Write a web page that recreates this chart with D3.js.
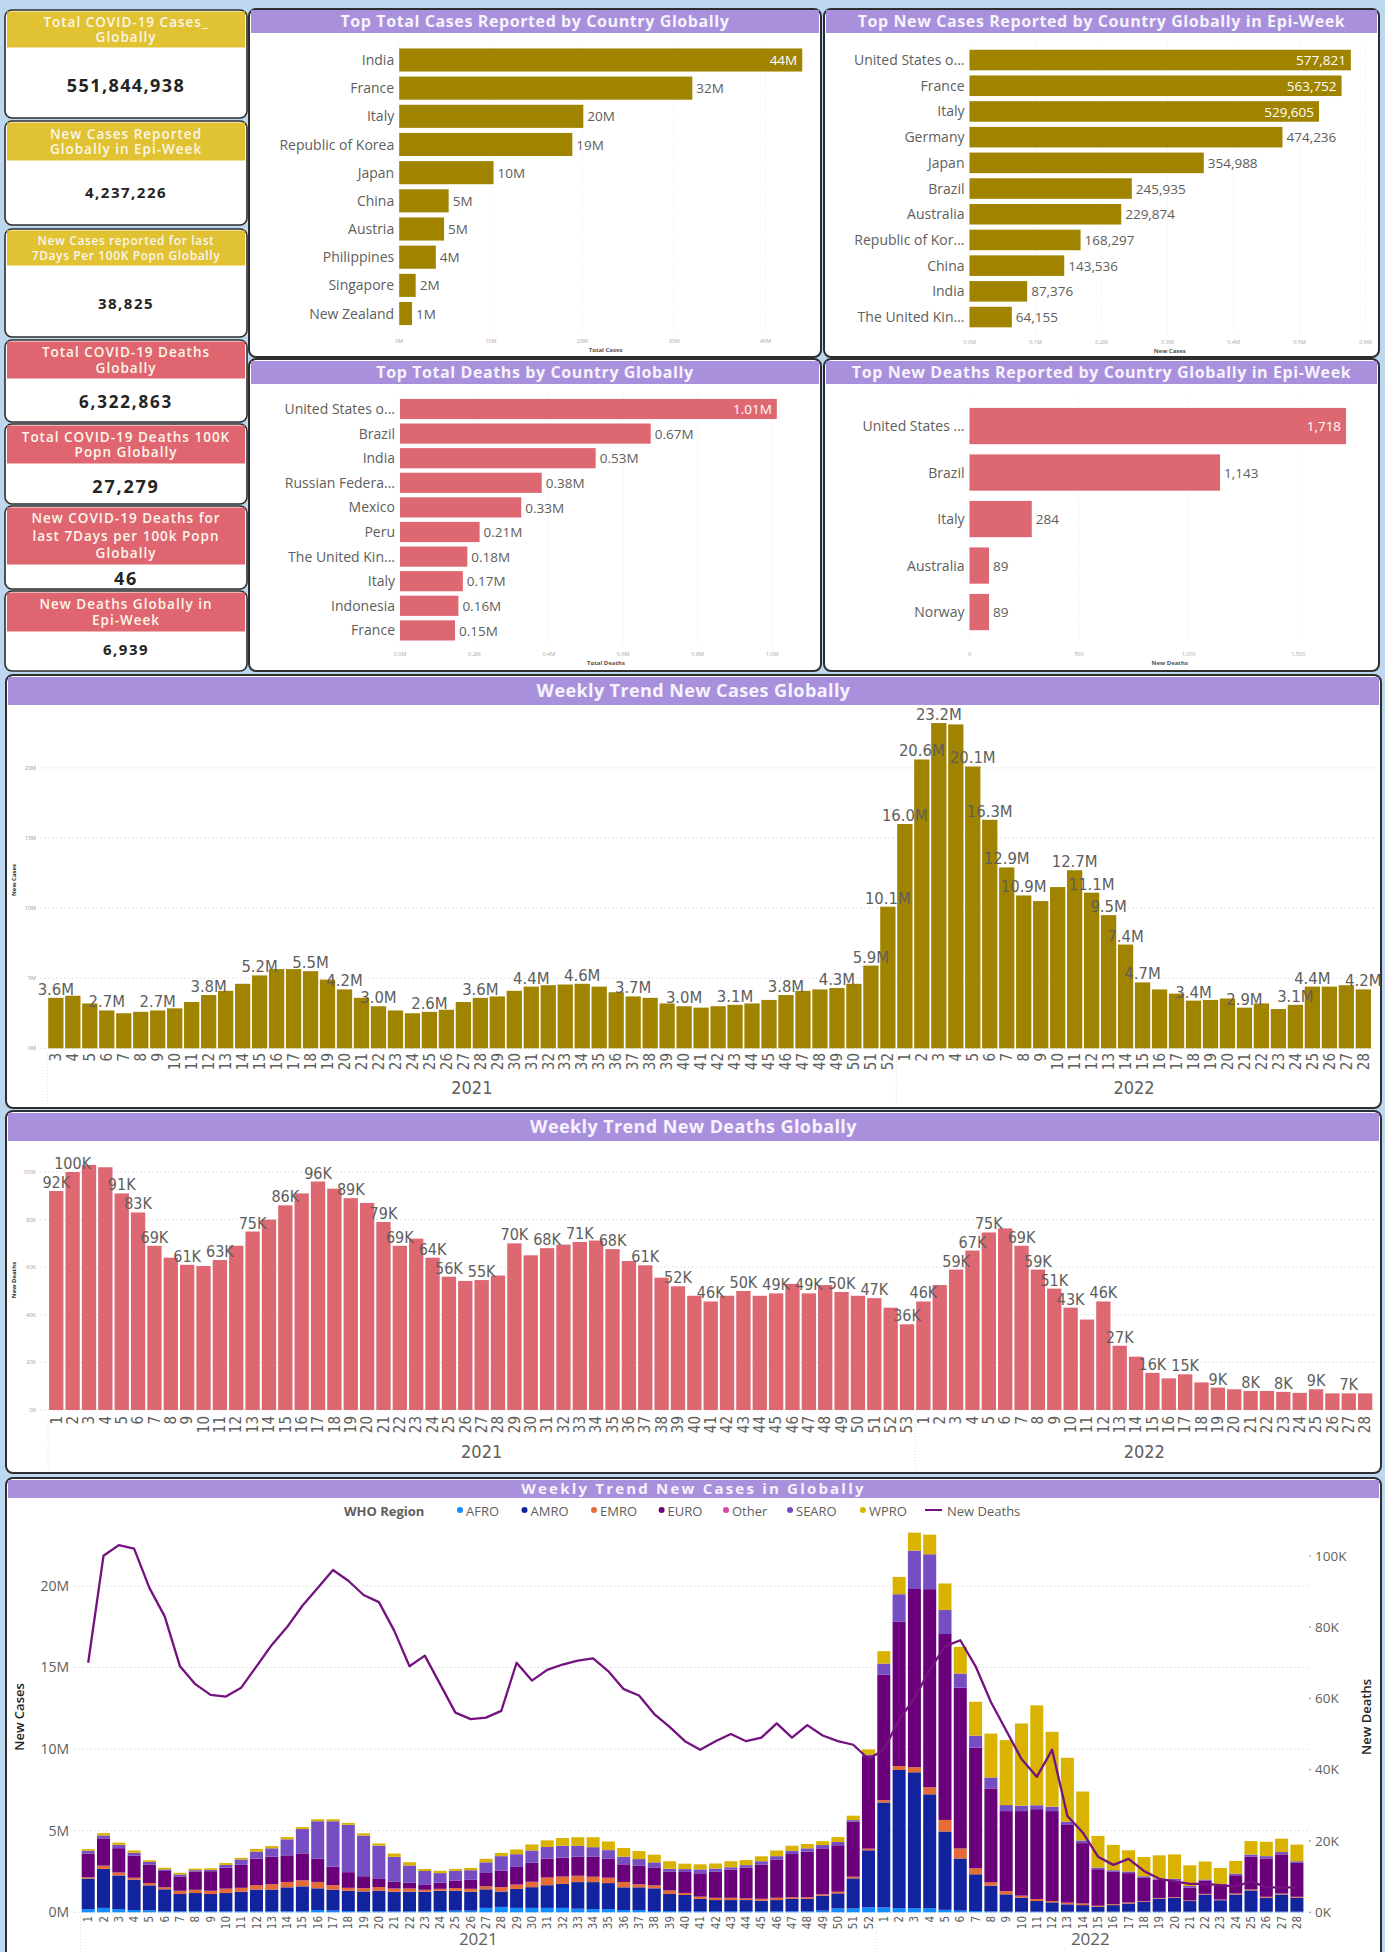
<!DOCTYPE html>
<html><head><meta charset="utf-8">
<script src="https://cdn.jsdelivr.net/npm/d3@7/dist/d3.min.js"></script>
<style>html,body{margin:0;padding:0;background:#bdd7ee;}svg{display:block;}</style>
</head><body>
<svg id="c" width="1385" height="1952"></svg>
<script>
// ================= DATA =================
const kpiTitleLines = [
  ["Total COVID-19 Cases_","Globally"],
  ["New Cases Reported","Globally in Epi-Week"],
  ["New Cases reported for last","7Days Per 100K Popn Globally"],
  ["Total COVID-19 Deaths","Globally"],
  ["Total COVID-19 Deaths 100K","Popn Globally"],
  ["New COVID-19 Deaths for","last 7Days per 100k Popn","Globally"],
  ["New Deaths Globally in","Epi-Week"]
];
const kpiValues = [551844938, 4237226, 38825, 6322863, 27279, 46, 6939];
const kpiGroups = ["cases","cases","cases","deaths","deaths","deaths","deaths"];

const totalCasesCountries = ["India","France","Italy","Republic of Korea","Japan","China","Austria","Philippines","Singapore","New Zealand"];
const totalCasesValues = [44.0e6, 32.0e6, 20.1e6, 18.9e6, 10.3e6, 5.4e6, 4.9e6, 4.0e6, 1.8e6, 1.4e6];
const totalCasesTicks = [0, 10e6, 20e6, 30e6, 40e6];
const totalCasesTickLabels = ["0M","10M","20M","30M","40M"];

const newCasesCountries = ["United States o...","France","Italy","Germany","Japan","Brazil","Australia","Republic of Kor...","China","India","The United Kin..."];
const newCasesValues = [577821, 563752, 529605, 474236, 354988, 245935, 229874, 168297, 143536, 87376, 64155];
const newCasesTicks = [0, 1e5, 2e5, 3e5, 4e5, 5e5, 6e5];
const newCasesTickLabels = ["0.0M","0.1M","0.2M","0.3M","0.4M","0.5M","0.6M"];

const totalDeathsCountries = ["United States o...","Brazil","India","Russian Federa...","Mexico","Peru","The United Kin...","Italy","Indonesia","France"];
const totalDeathsValues = [1013000, 674000, 526000, 381000, 326000, 214000, 181000, 169000, 157000, 148000];
const totalDeathsTicks = [0, 2e5, 4e5, 6e5, 8e5, 1e6];
const totalDeathsTickLabels = ["0.0M","0.2M","0.4M","0.6M","0.8M","1.0M"];

const newDeathsCountries = ["United States ...","Brazil","Italy","Australia","Norway"];
const newDeathsValues = [1718, 1143, 284, 89, 89];
const newDeathsTicks = [0, 500, 1000, 1500];
const newDeathsTickLabels = ["0","500","1,000","1,500"];

// Weekly new cases (millions), 2021 wk3..52, 2022 wk1..28
const caseWeekLabels = ["3","4","5","6","7","8","9","10","11","12","13","14","15","16","17","18","19","20","21","22","23","24","25","26","27","28","29","30","31","32","33","34","35","36","37","38","39","40","41","42","43","44","45","46","47","48","49","50","51","52",
  "1","2","3","4","5","6","7","8","9","10","11","12","13","14","15","16","17","18","19","20","21","22","23","24","25","26","27","28"];
const caseYearLabels = ["2021","2022"];
const caseYearCounts = [50, 28];
const caseValues = [3.6,3.75,3.2,2.7,2.5,2.6,2.7,2.85,3.3,3.8,
  4.1,4.6,5.2,5.65,5.65,5.5,4.9,4.2,3.6,3.0,
  2.7,2.5,2.6,2.75,3.3,3.6,3.7,4.1,4.4,4.5,
  4.55,4.6,4.4,4.0,3.7,3.6,3.2,3.0,
  2.9,3.0,3.1,3.2,3.45,3.8,4.1,4.2,4.3,4.6,5.9,10.1,
  16.0,20.6,23.2,23.1,20.1,16.3,12.9,10.9,10.5,11.5,
  12.7,11.1,9.5,7.4,4.7,4.2,3.9,3.4,3.45,3.55,
  2.9,3.2,2.8,3.1,4.4,4.4,4.5,4.2];
const caseLabelIdx = [0,3,6,9,12,15,17,19,22,25,28,31,34,37,40,43,46,48,49,50,51,52,54,55,56,57,60,61,62,63,64,67,70,73,74,77];
const caseYTicks = [0,5,10,15,20];
const caseYTickLabels = ["0M","5M","10M","15M","20M"];

// Weekly new deaths (thousands), 2021 wk1..53, 2022 wk1..28
const deathWeekLabels = ["1","2","3","4","5","6","7","8","9","10","11","12","13","14","15","16","17","18","19","20","21","22","23","24","25","26","27","28","29","30","31","32","33","34","35","36","37","38","39","40","41","42","43","44","45","46","47","48","49","50","51","52","53",
  "1","2","3","4","5","6","7","8","9","10","11","12","13","14","15","16","17","18","19","20","21","22","23","24","25","26","27","28"];
const deathYearLabels = ["2021","2022"];
const deathYearCounts = [53, 28];
const deathValues = [92,100,103,102,91,83,69,64,61,60.5,
  63,69,75,80,86,91,96,93,89,87,
  79,69,72,64,56,54.2,54.6,56.5,70,65,
  68,69.5,70.6,71.2,67.6,62.6,60.8,55.6,52,48,
  45.6,48,50,48,49,53,49,52.5,49.6,48,
  47,43,36,45.6,52.5,59,67,74.6,76.3,69,
  59,51,43,38,45.6,27,22.4,15.6,13.3,15,
  11.6,9.4,8.7,8,8,7.6,7.2,8.7,7,7,7];
const deathLabelIdx = [0,1,4,5,6,8,10,12,14,16,18,20,21,23,24,26,28,30,32,34,36,38,40,42,44,46,48,50,52,53,55,56,57,59,60,61,62,64,65,67,69,71,73,75,77,79];
const deathYTicks = [0,20,40,60,80,100];
const deathYTickLabels = ["0K","20K","40K","60K","80K","100K"];

// Weekly new cases by WHO region (millions) + new deaths line (thousands); 2021 wk1..52, 2022 wk1..28
const regionWeekLabels = ["1","2","3","4","5","6","7","8","9","10","11","12","13","14","15","16","17","18","19","20","21","22","23","24","25","26","27","28","29","30","31","32","33","34","35","36","37","38","39","40","41","42","43","44","45","46","47","48","49","50","51","52",
  "1","2","3","4","5","6","7","8","9","10","11","12","13","14","15","16","17","18","19","20","21","22","23","24","25","26","27","28"];
const regionYearLabels = ["2021","2022"];
const regionYearCounts = [52, 28];
const regionNames = ["AFRO","AMRO","EMRO","EURO","Other","SEARO","WPRO"];
const regionColors = ["#118dff","#12239e","#e66c37","#6b007b","#e044a7","#744ec2","#d9b300"];
const afro = [0.2,0.27,0.2,0.14,0.12,0.06,0.06,0.06,0.06,0.06,
  0.06,0.06,0.06,0.06,0.06,0.14,0.1,0.08,0.06,0.06,
  0.06,0.06,0.06,0.08,0.1,0.1,0.27,0.33,0.27,0.27,
  0.27,0.27,0.22,0.2,0.2,0.14,0.14,0.08,0.08,0.06,
  0.06,0.06,0.06,0.06,0.06,0.06,0.06,0.06,0.1,0.24,
  0.24,0.3,0.3,0.25,0.25,0.25,0.15,0.1,0.08,0.06,
  0.04,0.04,0.04,0.04,0.04,0.04,0.04,0.04,0.04,0.04,
  0.04,0.04,0.04,0.04,0.04,0.04,0.04,0.04,0.04,0.04];
const amro = [1.86,2.39,2.06,1.86,1.53,1.35,1.06,1.12,1.06,1.12,
  1.2,1.33,1.33,1.47,1.53,1.33,1.29,1.24,1.22,1.27,
  1.2,1.2,1.2,1.24,1.22,1.16,1.14,0.94,1.16,1.27,
  1.39,1.47,1.63,1.65,1.59,1.39,1.39,1.39,1.04,1.0,
  0.76,0.69,0.69,0.69,0.65,0.69,0.76,0.76,0.92,0.92,
  1.84,3.5,6.43,8.47,8.33,6.98,4.8,3.2,2.25,1.57,
  1.06,0.86,0.65,0.57,0.45,0.4,0.3,0.4,0.5,0.6,
  0.8,0.85,0.65,1.05,0.7,1.05,1.3,0.85,1.05,0.85];
const emro = [0.08,0.2,0.18,0.12,0.14,0.12,0.2,0.2,0.2,0.27,
  0.24,0.27,0.33,0.33,0.37,0.39,0.27,0.18,0.2,0.22,
  0.2,0.2,0.12,0.12,0.16,0.18,0.18,0.27,0.27,0.33,
  0.47,0.45,0.39,0.33,0.33,0.33,0.18,0.18,0.22,0.12,
  0.14,0.14,0.14,0.1,0.12,0.14,0.1,0.1,0.08,0.1,
  0.1,0.1,0.14,0.24,0.31,0.43,0.71,0.61,0.37,0.2,
  0.2,0.12,0.12,0.08,0.1,0.1,0.06,0.06,0.06,0.04,
  0.04,0.04,0.04,0.04,0.04,0.06,0.06,0.06,0.06,0.06];
const euro = [1.45,1.67,1.49,1.35,1.14,1.0,0.88,1.1,1.2,1.29,
  1.41,1.63,1.69,1.63,1.65,1.43,1.14,0.96,0.73,0.53,
  0.41,0.35,0.33,0.37,0.47,0.55,0.82,1.02,1.08,1.16,
  1.16,1.16,1.16,1.22,1.16,1.08,1.16,1.1,1.14,1.29,
  1.43,1.59,1.73,1.88,2.1,2.35,2.65,2.8,2.82,2.85,
  3.37,5.67,7.7,8.84,10.92,12.14,11.39,9.86,7.39,5.76,
  4.9,5.18,5.51,5.51,4.8,3.7,2.24,1.98,1.8,1.43,
  1.12,1.02,0.78,0.82,0.86,1.12,2.0,2.35,2.4,2.08];
const other = [0,0,0,0,0,0,0,0,0,0, 0,0,0,0,0,0,0,0,0,0, 0,0,0,0,0,0,0,0,0,0, 0,0,0,0,0,0,0,0,0,0,
  0,0,0,0,0,0,0,0,0,0, 0,0,0,0,0,0,0,0,0,0, 0,0,0,0,0,0,0,0,0,0, 0,0,0,0,0,0,0,0,0,0];
const searo = [0.18,0.18,0.2,0.18,0.16,0.1,0.12,0.1,0.08,0.16,
  0.33,0.43,0.51,0.98,1.49,2.29,2.78,2.9,2.49,2.0,
  1.53,1.06,0.82,0.59,0.59,0.59,0.65,0.88,0.78,0.76,
  0.71,0.73,0.67,0.59,0.53,0.47,0.39,0.31,0.18,0.18,
  0.24,0.2,0.14,0.16,0.2,0.2,0.2,0.2,0.2,0.2,
  0.1,0.08,0.67,1.69,2.35,2.14,1.47,0.86,0.73,0.67,
  0.37,0.33,0.24,0.27,0.16,0.16,0.1,0.1,0.1,0.1,
  0.06,0.1,0.1,0.06,0.1,0.1,0.14,0.14,0.14,0.1];
const wpro = [0.1,0.14,0.14,0.14,0.1,0.1,0.1,0.1,0.1,0.12,
  0.1,0.16,0.14,0.14,0.12,0.12,0.12,0.12,0.14,0.14,
  0.2,0.2,0.12,0.14,0.12,0.14,0.22,0.2,0.29,0.37,
  0.41,0.47,0.53,0.61,0.53,0.53,0.49,0.47,0.47,0.33,
  0.31,0.31,0.37,0.31,0.3,0.35,0.31,0.27,0.24,0.3,
  0.27,0.33,0.76,1.06,1.1,1.2,1.63,1.63,2.08,2.69,
  3.98,5.04,6.12,4.59,3.92,3.0,1.94,1.55,1.3,1.18,
  1.43,1.5,1.27,1.1,0.98,0.78,0.82,0.88,0.82,1.02];
const regionDeaths = [70,100,103,102,91,83,69,64,61,60.5,
  63,69,75,80,86,91,96,93,89,87,
  79,69,72,64,56,54.2,54.6,56.5,70,65,
  68,69.5,70.6,71.2,67.6,62.6,60.8,55.6,52,48,
  45.6,48,50,48,49,53,49,52.5,49.6,48,
  47,43,
  45.6,54,60,68,74.6,76.3,69,59,
  51,43,38,45.6,27,22.4,15.6,13.3,15,11.6,
  9.4,8.7,8,8,7.6,7.2,8.7,7,7,7];
const regionLeftTicks = [0,5,10,15,20];
const regionLeftTickLabels = ["0M","5M","10M","15M","20M"];
const regionRightTicks = [0,20,40,60,80,100];
const regionRightTickLabels = ["0K","20K","40K","60K","80K","100K"];

// ================= DRAWING =================
const svg = d3.select("#c");
const NARROW = "'Liberation Sans Narrow','Arial Narrow','DejaVu Sans Condensed',sans-serif";
const SANS = "'Open Sans','Noto Sans',sans-serif";
const GRAY = "#605e5c";
const TITLE_BG = "#a990dc";
const GOLD = "#a08400";
const ROSE = "#de6872";

svg.append("rect").attr("width",1385).attr("height",1952).attr("fill","#bdd7ee");

function panel(x, y, w, h, title, tbY, tbH, fs, ls) {
  svg.append("rect").attr("x",x).attr("y",y).attr("width",w).attr("height",h).attr("rx",7)
    .attr("fill","#fff").attr("stroke","#2e2e2e").attr("stroke-width",2);
  svg.append("rect").attr("x",x+2).attr("y",tbY).attr("width",w-4).attr("height",tbH).attr("fill",TITLE_BG);
  svg.append("text").attr("x",x+w/2).attr("y",tbY+tbH/2).attr("dy","0.36em").attr("text-anchor","middle")
    .attr("fill","#f6f3fc").attr("font-family",SANS).attr("font-weight",700).attr("font-size",fs)
    .attr("letter-spacing",ls).text(title);
}

// ---- KPI cards ----
const kpiLayout = [[10,108,36,86,18,1.4],[121,104,38,193,15,1.5],[229,108,35,304,15,1.5],[340,82,37,402,17,1.8],[424,80,38,487,18,1.8],[506,83,57,579,18,1.8],[591,80,39,650,15,1.5]];
const fmtComma = d3.format(",");
kpiLayout.forEach((L,i)=>{
  const [y,h,hh,vc,fs,ls] = L;
  svg.append("rect").attr("x",5).attr("y",y).attr("width",242).attr("height",h).attr("rx",7)
    .attr("fill","#fff").attr("stroke","#2e2e2e").attr("stroke-width",1.6);
  svg.append("rect").attr("x",7).attr("y",y+1.5).attr("width",238).attr("height",hh)
    .attr("fill", kpiGroups[i]==="cases" ? "#e1c232" : "#df6670");
  const lines = kpiTitleLines[i];
  const lh = lines.length===3 ? 17.5 : 15.5;
  const hfs = i===2 ? 12 : 13.5;
  const cy = y+1.5+hh/2;
  lines.forEach((t,j)=>{
    svg.append("text").attr("x",126).attr("y",cy+(j-(lines.length-1)/2)*lh).attr("dy","0.36em")
      .attr("text-anchor","middle").attr("fill","#fbf6ea").attr("font-family",SANS).attr("font-weight",600)
      .attr("font-size",hfs).attr("letter-spacing", i===2?0.6:1.0).text(t);
  });
  svg.append("text").attr("x",126).attr("y",vc).attr("dy","0.36em").attr("text-anchor","middle")
    .attr("fill","#252423").attr("font-family",SANS).attr("font-weight",700).attr("font-size",fs)
    .attr("letter-spacing",ls).text(fmtComma(kpiValues[i]));
});

// ---- horizontal bar charts ----
function hbar(o) {
  const x = d3.scaleLinear().domain([0,o.dmax]).range([o.xL,o.xR]);
  const y = d3.scaleBand().domain(o.cats).range([o.yT,o.yB]).paddingInner(o.pi).paddingOuter(o.pi/2);
  const g = svg.append("g");
  g.selectAll("line.g").data(o.ticks).join("line").attr("x1",d=>x(d)).attr("x2",d=>x(d))
    .attr("y1",o.yT-4).attr("y2",o.yB+4).attr("stroke","#ececec").attr("stroke-dasharray","1,2");
  g.selectAll("rect.b").data(o.vals).join("rect").attr("x",x(0)).attr("y",(d,i)=>y(o.cats[i]))
    .attr("width",d=>x(d)-x(0)).attr("height",y.bandwidth()).attr("fill",o.color);
  g.selectAll("text.c").data(o.cats).join("text").attr("x",x(0)-5).attr("y",d=>y(d)+y.bandwidth()/2)
    .attr("dy","0.36em").attr("text-anchor","end").attr("fill",GRAY).attr("font-family",SANS)
    .attr("font-size",14).text(d=>d);
  o.vals.forEach((v,i)=>{
    const t = g.append("text").attr("y",y(o.cats[i])+y.bandwidth()/2).attr("dy","0.38em")
      .attr("font-family",SANS).attr("font-size",13.5).text(o.fmt(v));
    const w = t.node().getComputedTextLength();
    if (x(v)+5+w > o.limit) t.attr("x",x(v)-5).attr("text-anchor","end").attr("fill","#fff");
    else t.attr("x",x(v)+4).attr("text-anchor","start").attr("fill",GRAY);
  });
  g.selectAll("text.t").data(o.ticks).join("text").attr("x",d=>x(d)).attr("y",o.tickY)
    .attr("text-anchor","middle").attr("fill","#a8a8a8").attr("font-family",SANS).attr("font-size",5.5)
    .text((d,i)=>o.tickLabels[i]);
  g.append("text").attr("x",(o.xL+o.limit)/2).attr("y",o.tickY+9).attr("text-anchor","middle")
    .attr("fill","#555").attr("font-family",SANS).attr("font-weight",700).attr("font-size",6).text(o.axisTitle);
}

panel(249,9,572,348,"Top Total Cases Reported by Country Globally",10,23,16,0.6);
hbar({cats:totalCasesCountries, vals:totalCasesValues, dmax:40e6, xL:399.2, xR:765.6, yT:45.9, yB:327.6, pi:0.18,
  color:GOLD, limit:812, fmt:v=>d3.format(".0f")(v/1e6)+"M", ticks:totalCasesTicks, tickLabels:totalCasesTickLabels,
  tickY:343, axisTitle:"Total Cases"});

panel(824,9,555,348,"Top New Cases Reported by Country Globally in Epi-Week",10,23,16,0.6);
hbar({cats:newCasesCountries, vals:newCasesValues, dmax:6e5, xL:969.5, xR:1365.5, yT:47.2, yB:329.9, pi:0.2,
  color:GOLD, limit:1370, fmt:d3.format(","), ticks:newCasesTicks, tickLabels:newCasesTickLabels,
  tickY:344, axisTitle:"New Cases"});

panel(249,359,572,312,"Top Total Deaths by Country Globally",361,23,16,0.6);
hbar({cats:totalDeathsCountries, vals:totalDeathsValues, dmax:1e6, xL:400, xR:772, yT:396.7, yB:642.7, pi:0.18,
  color:ROSE, limit:812, fmt:v=>(v/1e6).toFixed(2)+"M", ticks:totalDeathsTicks, tickLabels:totalDeathsTickLabels,
  tickY:656, axisTitle:"Total Deaths"});

panel(824,359,555,312,"Top New Deaths Reported by Country Globally in Epi-Week",361,23,16,0.6);
hbar({cats:newDeathsCountries, vals:newDeathsValues, dmax:1500, xL:969.5, xR:1298.3, yT:402.8, yB:635.3, pi:0.22,
  color:ROSE, limit:1370, fmt:d3.format(","), ticks:newDeathsTicks, tickLabels:newDeathsTickLabels,
  tickY:656, axisTitle:"New Deaths"});

// ---- weekly vertical bar charts ----
function vbar(o) {
  const n = o.vals.length;
  const x = d3.scaleBand().domain(d3.range(n)).range([o.xS,o.xE]).paddingInner(o.pi).paddingOuter(o.pi/2);
  const y = d3.scaleLinear().domain([0,o.ymax]).range([o.y0,o.yTop]);
  const g = svg.append("g");
  g.selectAll("line.g").data(o.yTicks).join("line").attr("x1",40).attr("x2",o.xE+2)
    .attr("y1",d=>y(d)).attr("y2",d=>y(d)).attr("stroke","#dcdcdc").attr("stroke-dasharray","1.5,2.5");
  g.selectAll("text.yt").data(o.yTicks).join("text").attr("x",36).attr("y",d=>y(d)).attr("dy","0.35em")
    .attr("text-anchor","end").attr("fill","#9a9a9a").attr("font-family",SANS).attr("font-size",5.5)
    .text((d,i)=>o.yTickLabels[i]);
  g.append("text").attr("transform",`translate(16,${o.yTitleY}) rotate(-90)`).attr("text-anchor","middle")
    .attr("fill","#333").attr("font-family",SANS).attr("font-weight",700).attr("font-size",6).text(o.yTitle);
  g.selectAll("rect.b").data(o.vals).join("rect").attr("x",(d,i)=>x(i)).attr("y",d=>y(d))
    .attr("width",x.bandwidth()).attr("height",d=>y(0)-y(d)).attr("fill",o.color);
  g.selectAll("text.l").data(o.labelIdx).join("text").attr("x",i=>x(i)+x.bandwidth()/2).attr("y",i=>y(o.vals[i])-3)
    .attr("text-anchor","middle").attr("fill",GRAY).attr("font-family",NARROW).attr("font-size",o.labelSize)
    .text(i=>o.fmt(o.vals[i]));
  g.selectAll("text.xt").data(o.xLabels).join("text")
    .attr("transform",(d,i)=>`translate(${x(i)+x.bandwidth()/2},${o.xTickY}) rotate(-90)`)
    .attr("text-anchor","end").attr("dy","0.35em").attr("fill",GRAY).attr("font-family",NARROW)
    .attr("font-size",o.xTickSize).text(d=>d);
  let start = 0;
  o.yearCounts.forEach((c,k)=>{
    const left = x(start) - x.step()*o.pi/2, right = x(start+c-1) + x.bandwidth();
    g.append("line").attr("x1",left).attr("x2",left).attr("y1",o.xTickY-1).attr("y2",o.sepBottom)
      .attr("stroke","#dedede").attr("stroke-dasharray","1,2");
    g.append("text").attr("x",(x(start)+right)/2).attr("y",o.yearY).attr("text-anchor","middle")
      .attr("fill",GRAY).attr("font-family",NARROW).attr("font-size",18).text(o.yearLabels[k]);
    start += c;
  });
}

panel(6,675,1375,433,"Weekly Trend New Cases Globally",677,28,18,0.4);
vbar({vals:caseValues, xLabels:caseWeekLabels, xS:47.35, xE:1371.8, pi:0.1, ymax:20, y0:1048.3, yTop:767.9,
  yTicks:caseYTicks, yTickLabels:caseYTickLabels, yTitle:"New Cases", yTitleY:880, color:GOLD,
  labelIdx:caseLabelIdx, labelSize:16.5, fmt:v=>d3.format(".1f")(v)+"M", xTickY:1053, xTickSize:15,
  yearCounts:caseYearCounts, yearLabels:caseYearLabels, yearY:1094, sepBottom:1104});

panel(6,1111,1375,362,"Weekly Trend New Deaths Globally",1113,28,18,0.4);
vbar({vals:deathValues, xLabels:deathWeekLabels, xS:48.08, xE:1373.3, pi:0.125, ymax:100, y0:1410, yTop:1172,
  yTicks:deathYTicks, yTickLabels:deathYTickLabels, yTitle:"New Deaths", yTitleY:1280, color:ROSE,
  labelIdx:deathLabelIdx, labelSize:16, fmt:v=>d3.format(".0f")(v)+"K", xTickY:1416, xTickSize:15,
  yearCounts:deathYearCounts, yearLabels:deathYearLabels, yearY:1458, sepBottom:1470});

// ---- stacked regions + deaths line ----
panel(6,1478,1375,490,"Weekly Trend New Cases in Globally",1480,18,15,2.2);
(function(){
  const n = regionWeekLabels.length;
  const series = [afro, amro, emro, euro, other, searo, wpro];
  const rows = regionWeekLabels.map((w,i)=>{
    const r = {i:i};
    regionNames.forEach((k,j)=>{ r[k] = series[j][i]; });
    return r;
  });
  const stacked = d3.stack().keys(regionNames)(rows);
  const x = d3.scaleBand().domain(d3.range(n)).range([80.55,1304.55]).paddingInner(0.15).paddingOuter(0.075);
  const yL = d3.scaleLinear().domain([0,24]).range([1912.3,1520.6]);
  const yR = d3.scaleLinear().domain([0,110]).range([1912.3,1520.15]);
  const g = svg.append("g");
  g.selectAll("line.g").data(regionLeftTicks).join("line").attr("x1",74).attr("x2",1310)
    .attr("y1",d=>yL(d)).attr("y2",d=>yL(d)).attr("stroke","#d8d8d8").attr("stroke-dasharray","1.5,2.5");
  g.selectAll("text.yl").data(regionLeftTicks).join("text").attr("x",69).attr("y",d=>yL(d)).attr("dy","0.35em")
    .attr("text-anchor","end").attr("fill",GRAY).attr("font-family",SANS).attr("font-size",14)
    .text((d,i)=>regionLeftTickLabels[i]);
  g.selectAll("circle.yd").data(regionRightTicks).join("circle").attr("cx",1310).attr("cy",d=>yR(d)).attr("r",0.9).attr("fill","#999");
  g.selectAll("text.yr").data(regionRightTicks).join("text").attr("x",1315).attr("y",d=>yR(d)).attr("dy","0.35em")
    .attr("text-anchor","start").attr("fill",GRAY).attr("font-family",SANS).attr("font-size",13.5)
    .text((d,i)=>regionRightTickLabels[i]);
  g.append("text").attr("transform","translate(24,1717) rotate(-90)").attr("text-anchor","middle")
    .attr("fill","#252423").attr("font-family",SANS).attr("font-weight",600).attr("font-size",13).text("New Cases");
  g.append("text").attr("transform","translate(1371,1717) rotate(-90)").attr("text-anchor","middle")
    .attr("fill","#252423").attr("font-family",SANS).attr("font-weight",600).attr("font-size",13).text("New Deaths");
  stacked.forEach((s,j)=>{
    g.selectAll(null).data(s).join("rect").attr("x",d=>x(d.data.i)).attr("y",d=>yL(d[1]))
      .attr("width",x.bandwidth()).attr("height",d=>Math.max(0,yL(d[0])-yL(d[1]))).attr("fill",regionColors[j]);
  });
  const line = d3.line().x((d,i)=>x(i)+x.bandwidth()/2).y(d=>yR(d));
  g.append("path").datum(regionDeaths).attr("d",line).attr("fill","none").attr("stroke","#74127f")
    .attr("stroke-width",2.3).attr("stroke-linejoin","round");
  g.selectAll("text.xt").data(regionWeekLabels).join("text")
    .attr("transform",(d,i)=>`translate(${x(i)+x.bandwidth()/2},1916) rotate(-90)`)
    .attr("text-anchor","end").attr("dy","0.35em").attr("fill",GRAY).attr("font-family",NARROW)
    .attr("font-size",11.5).text(d=>d);
  let start = 0;
  regionYearCounts.forEach((c,k)=>{
    const left = x(start) - x.step()*0.075, right = x(start+c-1)+x.bandwidth();
    g.append("line").attr("x1",left).attr("x2",left).attr("y1",1915).attr("y2",1952)
      .attr("stroke","#dedede").attr("stroke-dasharray","1,2");
    g.append("text").attr("x",(x(start)+right)/2).attr("y",1945).attr("text-anchor","middle")
      .attr("fill",GRAY).attr("font-family",SANS).attr("font-size",17).text(regionYearLabels[k]);
    start += c;
  });
  // legend
  const ly = 1511;
  g.append("text").attr("x",344).attr("y",ly).attr("dy","0.36em").attr("fill",GRAY).attr("font-family",SANS)
    .attr("font-weight",700).attr("font-size",13).text("WHO Region");
  const dotX = [460,524.5,594,661.6,726,790,862.9];
  regionNames.forEach((k,j)=>{
    g.append("circle").attr("cx",dotX[j]).attr("cy",ly-1).attr("r",3).attr("fill",regionColors[j]);
    g.append("text").attr("x",dotX[j]+6).attr("y",ly).attr("dy","0.36em").attr("fill",GRAY)
      .attr("font-family",SANS).attr("font-size",13).text(k);
  });
  g.append("line").attr("x1",925).attr("x2",942).attr("y1",ly-1).attr("y2",ly-1).attr("stroke","#74127f").attr("stroke-width",2);
  g.append("text").attr("x",947).attr("y",ly).attr("dy","0.36em").attr("fill",GRAY)
    .attr("font-family",SANS).attr("font-size",13).text("New Deaths");
})();
</script>
</body></html>
